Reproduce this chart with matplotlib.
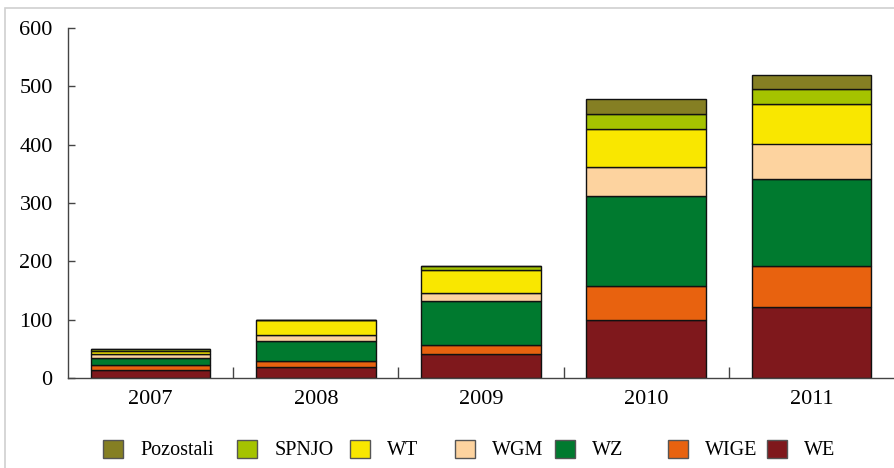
import numpy as np
import matplotlib
matplotlib.use("Agg")
import matplotlib.pyplot as plt
from matplotlib.patches import Rectangle

# ===================== Data =====================
years = ["2007", "2008", "2009", "2010", "2011"]
series_names = ["WE", "WIGE", "WZ", "WGM", "WT", "SPNJO", "Pozostali"]
we = [13, 19, 41, 100, 121]
wige = [10, 10, 15, 57, 71]
wz = [12, 35, 76, 155, 149]
wgm = [6, 10, 14, 50, 61]
wt = [6, 26, 40, 65, 68]
spnjo = [2, 0, 6, 26, 25]
pozostali = [0, 0, 0, 26, 24]

colors = ["#7f181c", "#e8620f", "#007a2f", "#fdd39f", "#f9e700", "#a5c300", "#857f23"]

# ===================== Plot =====================
plt.rcParams["font.family"] = ["Liberation Serif", "DejaVu Serif"]

fig = plt.figure(figsize=(8.94, 4.68), dpi=100)
ax = fig.add_axes([68 / 894, 1 - 378 / 468, 1 - 68 / 894, 350 / 468])

x = np.arange(len(years))
bottom = np.zeros(len(years))
handles = []
for name, vals, col in zip(series_names, [we, wige, wz, wgm, wt, spnjo, pozostali], colors):
    vals = np.array(vals, dtype=float)
    b = ax.bar(x, vals, width=0.725, bottom=bottom, color=col,
               edgecolor="#111111", linewidth=1.0, label=name)
    handles.append(b)
    bottom += vals

ax.set_xlim(-0.5, 4.5)
ax.set_ylim(0, 600)
ax.set_yticks(range(0, 601, 100))
ax.set_xticks(x)
ax.set_xticklabels(years)
ax.set_xticks(x[:-1] + 0.5, minor=True)
ax.tick_params(axis="x", which="major", length=0, labelsize=16, pad=9)
ax.tick_params(axis="x", which="minor", direction="in", length=8, width=1, color="#444444")
ax.tick_params(axis="y", direction="in", length=5, width=1, color="#444444", labelsize=16, pad=11)

for side in ["top", "right"]:
    ax.spines[side].set_visible(False)
for side in ["left", "bottom"]:
    ax.spines[side].set_color("#444444")
    ax.spines[side].set_linewidth(1.0)

# Legend, one entry at a time (reverse order, uneven spacing like the original)
handle_x = [103, 237, 350, 455, 555, 668, 767]
for hx, h, name in zip(handle_x, handles[::-1], series_names[::-1]):
    leg = fig.legend([h], [name], loc="center left",
                     bbox_to_anchor=(hx / 894, 1 - 450 / 468), frameon=False,
                     fontsize=14.5, handlelength=1.0, handleheight=1.0,
                     handletextpad=0.85, borderpad=0, borderaxespad=0)
    for lh in leg.legend_handles:
        lh.set_edgecolor("#555555")

# light frame around figure
fig.patches.append(Rectangle((5 / 894, -0.1), 1.2, 1 - 8 / 468 + 0.1,
                             transform=fig.transFigure, fill=False,
                             edgecolor="#d0d0d0", linewidth=1.2))

fig.savefig("out.png", dpi=100)
